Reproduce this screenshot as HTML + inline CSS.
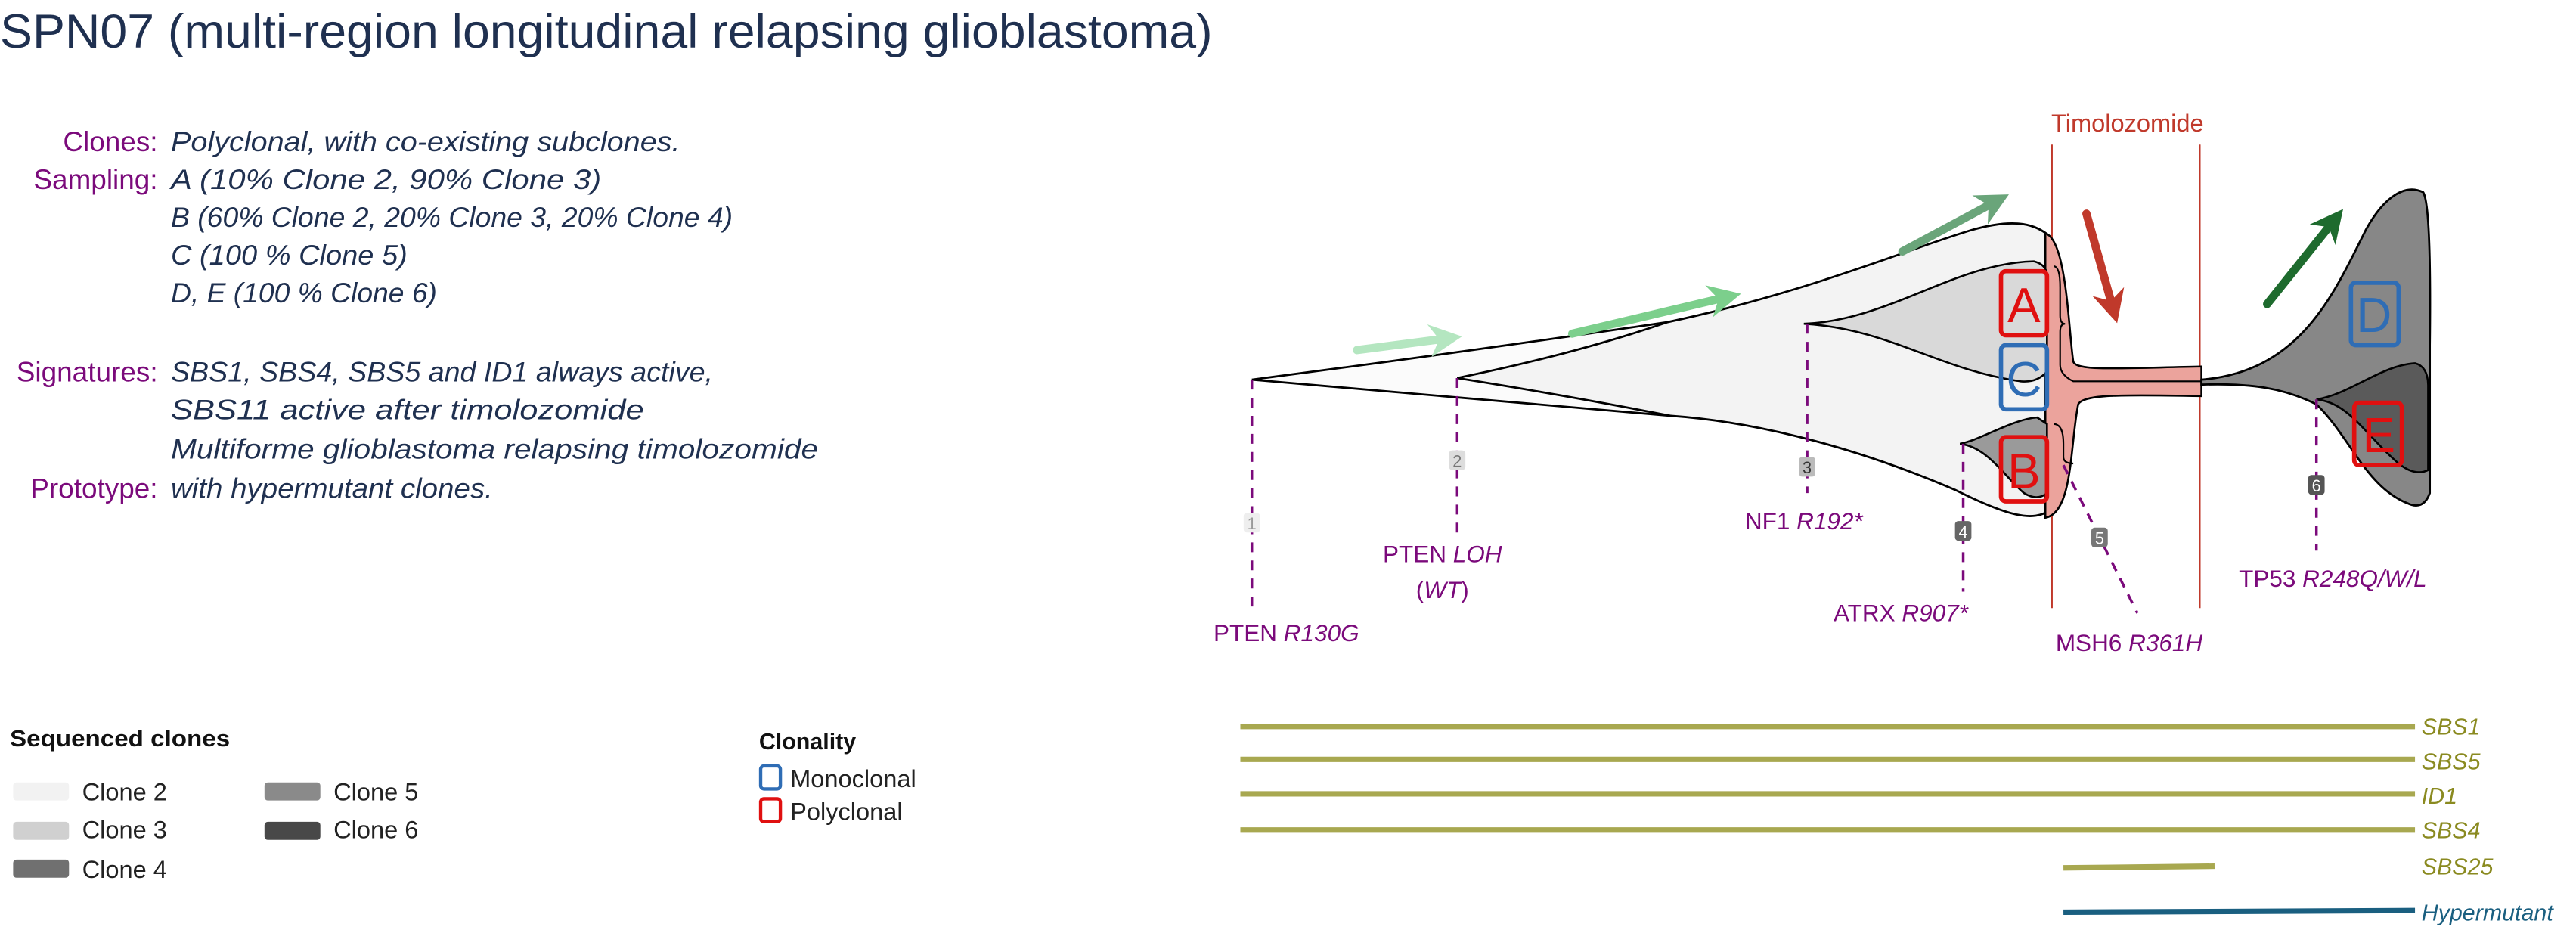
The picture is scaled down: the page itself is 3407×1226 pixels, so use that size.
<!DOCTYPE html>
<html><head><meta charset="utf-8"><style>
html,body{margin:0;padding:0;background:#fff;}
svg{display:block;}
text{font-family:"Liberation Sans",sans-serif;}
</style></head><body>
<svg width="3407" height="1226" viewBox="0 0 1568 564" preserveAspectRatio="none" xmlns="http://www.w3.org/2000/svg">
<defs>
<marker id="ah" viewBox="0 0 10 10" refX="5" refY="5" markerWidth="4" markerHeight="4" orient="auto"><path d="M0,0 L10,5 L0,10 L3,5 Z" fill="context-stroke"/></marker>
</defs>
<text x="0" y="29" font-size="29" fill="#1f3050" textLength="738" lengthAdjust="spacingAndGlyphs">SPN07 (multi-region longitudinal relapsing glioblastoma)</text>

<g font-size="17">
<g fill="#7b0a7b" text-anchor="end">
<text x="96" y="92">Clones:</text>
<text x="96" y="115">Sampling:</text>
<text x="96" y="232">Signatures:</text>
<text x="96" y="303">Prototype:</text>
</g>
<g fill="#1f3050" font-style="italic" lengthAdjust="spacingAndGlyphs">
<text x="104" y="92" textLength="310" lengthAdjust="spacingAndGlyphs">Polyclonal, with co-existing subclones.</text>
<text x="104" y="115" textLength="262" lengthAdjust="spacingAndGlyphs">A (10% Clone 2, 90% Clone 3)</text>
<text x="104" y="138" textLength="342" lengthAdjust="spacingAndGlyphs">B (60% Clone 2, 20% Clone 3, 20% Clone 4)</text>
<text x="104" y="161" textLength="144" lengthAdjust="spacingAndGlyphs">C (100 % Clone 5)</text>
<text x="104" y="184" textLength="162" lengthAdjust="spacingAndGlyphs">D, E (100 % Clone 6)</text>
<text x="104" y="232" textLength="330" lengthAdjust="spacingAndGlyphs">SBS1, SBS4, SBS5 and ID1 always active,</text>
<text x="104" y="255" textLength="288" lengthAdjust="spacingAndGlyphs">SBS11 active after timolozomide</text>
<text x="104" y="279" textLength="394" lengthAdjust="spacingAndGlyphs">Multiforme glioblastoma relapsing timolozomide</text>
<text x="104" y="303" textLength="196" lengthAdjust="spacingAndGlyphs">with hypermutant clones.</text>
</g>
</g>

<!-- diagram -->
<line x1="1249" y1="88" x2="1249" y2="370" stroke="#c0392b" stroke-width="1"/>
<line x1="1339" y1="88" x2="1339" y2="370" stroke="#c0392b" stroke-width="1"/>
<text x="1295" y="80" font-size="15" fill="#c0392b" text-anchor="middle">Timolozomide</text>

<!-- clone 1 + clone 2 outer -->
<path d="M762,231 Q900,213 1015,196 C1100,178 1160,152 1200,140 C1228,132 1240,137 1248,144 L1248,310 C1238,318 1222,314 1190,298 C1120,268 1060,256 1017,253 Q900,243 762,231 Z" fill="#fbfbfb"/>
<path d="M887,230 Q960,215 1015,196 C1100,178 1160,152 1200,140 C1228,132 1240,137 1248,144 L1248,310 C1238,318 1222,314 1190,298 C1120,268 1060,256 1017,253 Q950,240 887,230 Z" fill="#f3f3f3" stroke="#000" stroke-width="1.3"/>
<path d="M762,231 Q900,213 1015,196 M762,231 Q900,243 1017,253" fill="none" stroke="#000" stroke-width="1.3"/>
<path d="M1245,142 C1258,146 1259,200 1262,220 C1264,226 1290,224 1340,223 L1340,241 C1290,240 1268,240 1265,246 C1260,270 1262,312 1245,315 Z" fill="#eba39c" stroke="#000" stroke-width="1.2"/>
<path d="M1098,197 C1150,195 1190,160 1238,159 Q1246,161 1246,168 L1246,226 Q1240,233 1230,232 C1180,225 1150,200 1098,197 Z" fill="#d9d9d9" stroke="#000" stroke-width="1.2"/>
<path d="M1193,270 C1205,268 1225,255 1240,254 L1246,258 L1246,300 Q1240,305 1232,300 C1220,290 1210,272 1193,270 Z" fill="#9a9a9a" stroke="#000" stroke-width="1.2"/>
<path d="M1250,162 Q1254,162 1254,175 L1254,192 Q1254,197 1257,197 Q1254,197 1254,202 L1254,222 Q1254,228 1262,232 L1340,232 M1250,258 Q1256,258 1256,270 L1256,278 Q1256,282 1262,282" fill="none" stroke="#000" stroke-width="1"/>
<path d="M1340,231 C1400,226 1420,180 1440,140 C1452,118 1465,112 1475,117 Q1480,125 1479,210 L1479,300 Q1475,311 1465,306 C1440,296 1430,265 1410,246 C1390,236 1370,233 1340,234 Z" fill="#878787" stroke="#000" stroke-width="1.3"/>
<path d="M1410,243 C1430,240 1450,222 1470,221 Q1478,223 1478,235 L1478,286 Q1470,290 1460,282 C1440,265 1430,245 1410,243 Z" fill="#5a5a5a" stroke="#000" stroke-width="1.2"/>

<g fill="none" stroke-width="2.6">
<rect x="1218" y="165" width="28" height="39" rx="3" stroke="#e01010"/>
<rect x="1218" y="210" width="28" height="39" rx="3" stroke="#2f6db5"/>
<rect x="1218" y="266" width="28" height="39" rx="3" stroke="#e01010"/>
<rect x="1431" y="172" width="29" height="38" rx="3" stroke="#2f6db5"/>
<rect x="1433" y="245" width="29" height="38" rx="3" stroke="#e01010"/>
</g>
<g font-size="30" text-anchor="middle">
<text x="1232" y="196" fill="#e01010">A</text>
<text x="1232" y="241" fill="#2f6db5">C</text>
<text x="1232" y="297" fill="#e01010">B</text>
<text x="1445" y="202" fill="#2f6db5">D</text>
<text x="1448" y="275" fill="#e01010">E</text>
</g>

<g stroke-width="5" stroke-linecap="round" marker-end="url(#ah)">
<line x1="826" y1="213" x2="880" y2="206" stroke="#b4e6c0"/>
<line x1="957" y1="203" x2="1050" y2="181" stroke="#7ccf8c"/>
<line x1="1158" y1="153" x2="1214" y2="123" stroke="#6aa57a"/>
<line x1="1380" y1="185" x2="1420" y2="135" stroke="#1e6b2e"/>
<line x1="1270" y1="130" x2="1286" y2="187" stroke="#c0392b"/>
</g>

<g stroke="#7b0a7b" stroke-width="1.6" stroke-dasharray="6,5" fill="none">
<line x1="762" y1="231" x2="762" y2="370"/>
<line x1="887" y1="230" x2="887" y2="325"/>
<line x1="1100" y1="197" x2="1100" y2="300"/>
<line x1="1195" y1="270" x2="1195" y2="360"/>
<line x1="1256" y1="283" x2="1301" y2="373"/>
<line x1="1410" y1="243" x2="1410" y2="335"/>
</g>
<g font-size="10" text-anchor="middle">
<rect x="757" y="312" width="10" height="12" rx="2" fill="#eee"/><text x="762" y="322" fill="#999">1</text>
<rect x="882" y="274" width="10" height="12" rx="2" fill="#ddd"/><text x="887" y="284" fill="#777">2</text>
<rect x="1095" y="278" width="10" height="12" rx="2" fill="#bbb"/><text x="1100" y="288" fill="#333">3</text>
<rect x="1190" y="317" width="10" height="12" rx="2" fill="#666"/><text x="1195" y="327" fill="#fff">4</text>
<rect x="1273" y="321" width="10" height="12" rx="2" fill="#777"/><text x="1278" y="331" fill="#fff">5</text>
<rect x="1405" y="289" width="10" height="12" rx="2" fill="#555"/><text x="1410" y="299" fill="#fff">6</text>
</g>
<g font-size="14.5" fill="#7b0a7b" text-anchor="middle">
<text x="783" y="390">PTEN <tspan font-style="italic">R130G</tspan></text>
<text x="878" y="342">PTEN <tspan font-style="italic">LOH</tspan></text>
<text x="878" y="364">(<tspan font-style="italic">WT</tspan>)</text>
<text x="1098" y="322">NF1 <tspan font-style="italic">R192*</tspan></text>
<text x="1157" y="378">ATRX <tspan font-style="italic">R907*</tspan></text>
<text x="1296" y="396">MSH6 <tspan font-style="italic">R361H</tspan></text>
<text x="1420" y="357">TP53 <tspan font-style="italic">R248Q/W/L</tspan></text>
</g>

<!-- legends -->
<text x="6" y="454" font-size="14" font-weight="bold" fill="#111" textLength="134" lengthAdjust="spacingAndGlyphs">Sequenced clones</text>
<g font-size="15" fill="#222">
<rect x="8" y="476" width="34" height="11" rx="2" fill="#f2f2f2"/><text x="50" y="487">Clone 2</text>
<rect x="8" y="500" width="34" height="11" rx="2" fill="#d0d0d0"/><text x="50" y="510">Clone 3</text>
<rect x="8" y="523" width="34" height="11" rx="2" fill="#707070"/><text x="50" y="534">Clone 4</text>
<rect x="161" y="476" width="34" height="11" rx="2" fill="#8a8a8a"/><text x="203" y="487">Clone 5</text>
<rect x="161" y="500" width="34" height="11" rx="2" fill="#484848"/><text x="203" y="510">Clone 6</text>
</g>
<text x="462" y="456" font-size="14" font-weight="bold" fill="#111">Clonality</text>
<rect x="463" y="466" width="12" height="14" rx="2" fill="none" stroke="#2f6db5" stroke-width="2"/>
<text x="481" y="479" font-size="15" fill="#222">Monoclonal</text>
<rect x="463" y="486" width="12" height="14" rx="2" fill="none" stroke="#e01010" stroke-width="2"/>
<text x="481" y="499" font-size="15" fill="#222">Polyclonal</text>

<g stroke="#a8a850" stroke-width="3.3">
<line x1="755" y1="442" x2="1470" y2="442"/>
<line x1="755" y1="462" x2="1470" y2="462"/>
<line x1="755" y1="483" x2="1470" y2="483"/>
<line x1="755" y1="505" x2="1470" y2="505"/>
<line x1="1256" y1="528" x2="1348" y2="527"/>
</g>
<line x1="1256" y1="555" x2="1470" y2="554" stroke="#1a5f80" stroke-width="3.3"/>
<g font-size="14" font-style="italic" fill="#8a8a20">
<text x="1474" y="447">SBS1</text>
<text x="1474" y="468">SBS5</text>
<text x="1474" y="489">ID1</text>
<text x="1474" y="510">SBS4</text>
<text x="1474" y="532">SBS25</text>
<text x="1474" y="560" fill="#1a5f80">Hypermutant</text>
</g>
</svg>
</body></html>
